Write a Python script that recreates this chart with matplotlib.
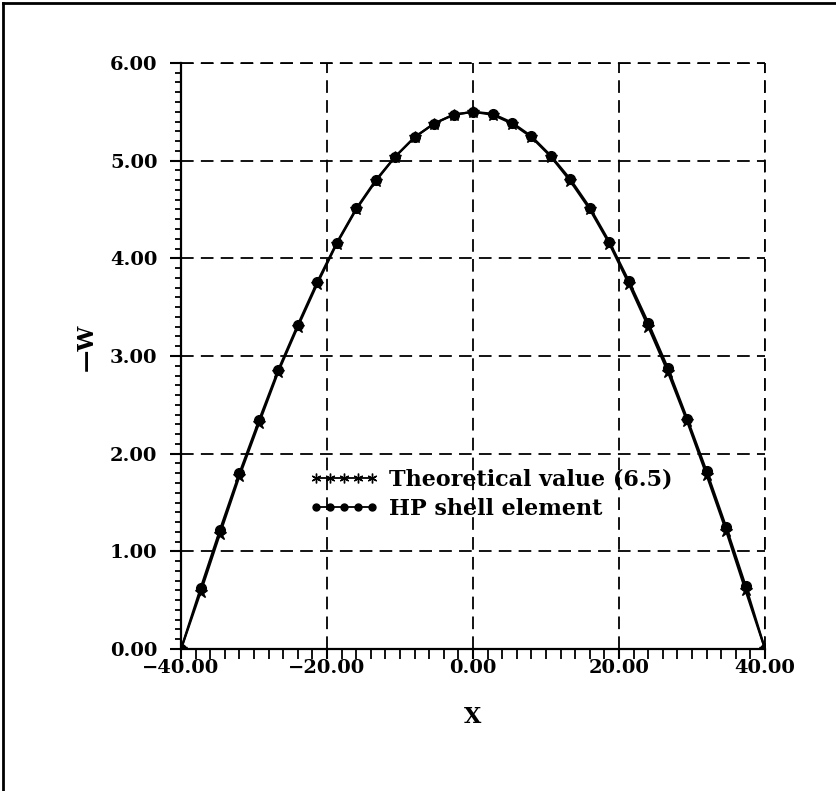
import numpy as np
import matplotlib.pyplot as plt
from matplotlib.ticker import MultipleLocator, FuncFormatter
from matplotlib.lines import Line2D

# station coordinates along the shell (31 nodes from -40 to 40)
x_nodes = [-40.00, -37.33, -34.67, -32.00, -29.33, -26.67, -24.00, -21.33,
           -18.67, -16.00, -13.33, -10.67, -8.00, -5.33, -2.67, 0.00,
           2.67, 5.33, 8.00, 10.67, 13.33, 16.00, 18.67, 21.33,
           24.00, 26.67, 29.33, 32.00, 34.67, 37.33, 40.00]

# deflection -W from the HP shell element
w_hp = [0.00, 0.62, 1.22, 1.80, 2.34, 2.86, 3.32, 3.76,
        4.16, 4.51, 4.80, 5.04, 5.24, 5.38, 5.47, 5.50,
        5.48, 5.39, 5.25, 5.05, 4.81, 4.52, 4.17, 3.77,
        3.34, 2.88, 2.36, 1.82, 1.25, 0.65, 0.00]

# theoretical deflection, eq. (6.5)
w_theory = [0.00, 0.58, 1.18, 1.77, 2.31, 2.84, 3.30, 3.74,
            4.15, 4.50, 4.79, 5.04, 5.24, 5.38, 5.47, 5.50,
            5.47, 5.38, 5.24, 5.04, 4.79, 4.50, 4.15, 3.74,
            3.30, 2.84, 2.33, 1.78, 1.21, 0.60, 0.00]

xticks = [-40, -20, 0, 20, 40]
yticks = [0, 1, 2, 3, 4, 5, 6]

plt.rcParams['font.family'] = 'DejaVu Serif'
plt.rcParams['font.weight'] = 'bold'

fig = plt.figure(figsize=(8.37, 7.91), dpi=100)
ax = fig.add_axes([0.2163, 0.1795, 0.914 - 0.2163, 0.9204 - 0.1795])

ax.plot(x_nodes, w_theory, color='black', linewidth=1.6, marker='*',
        markersize=9, zorder=3)
ax.plot(x_nodes, w_hp, color='black', linewidth=1.6, marker='o',
        markersize=7, zorder=4)

ax.set_xlim(-40, 40)
ax.set_ylim(0, 6)
ax.set_xticks(xticks)
ax.set_yticks(yticks)
ax.xaxis.set_minor_locator(MultipleLocator(2))
ax.yaxis.set_minor_locator(MultipleLocator(0.1))
fmt = FuncFormatter(lambda v, pos: f'{v:.2f}'.replace('-', '\u2212'))
ax.xaxis.set_major_formatter(fmt)
ax.yaxis.set_major_formatter(fmt)
ax.tick_params(axis='x', which='major', direction='out', length=7,
               width=1.5, labelsize=14, pad=0)
ax.tick_params(axis='x', which='minor', direction='out', length=7,
               width=1.3)
ax.tick_params(axis='y', which='major', direction='out', length=8,
               width=1.5, labelsize=14, pad=9)
ax.tick_params(axis='y', which='minor', direction='out', length=4.5,
               width=1.3)

# dashed grid closes the box on top and right
dash = (0, (7, 4))
ax.grid(True, which='major', linestyle=dash, color='black', linewidth=1.3)
for side in ['top', 'right']:
    ax.spines[side].set_visible(False)
for side in ['left', 'bottom']:
    ax.spines[side].set_linewidth(1.6)
ax.axhline(6, color='black', linestyle=dash, linewidth=1.3, clip_on=False)
ax.axvline(40, color='black', linestyle=dash, linewidth=1.3, clip_on=False)

ax.set_xlabel('X', fontsize=16, fontweight='bold', labelpad=21)
ax.set_ylabel('—W', fontsize=16, fontweight='bold')
ax.yaxis.set_label_coords(-0.142, 0.514)

handles = [
    Line2D([0], [0], color='black', linewidth=1.3, marker=(6, 2, 0),
           markersize=7),
    Line2D([0], [0], color='black', linewidth=1.3, marker='o',
           markersize=5),
]
ax.legend(handles, ['Theoretical value (6.5)', 'HP shell element'],
          loc='center left', bbox_to_anchor=(0.205, 0.264), frameon=False,
          numpoints=5, handlelength=3.1, handletextpad=0.45,
          labelspacing=0.3, borderaxespad=0,
          prop={'family': 'DejaVu Serif', 'weight': 'bold', 'size': 16})

# page frame on the left and top edges
fig.add_artist(Line2D([0.004, 0.004], [0.0, 0.996], color='black',
                      linewidth=2, transform=fig.transFigure))
fig.add_artist(Line2D([0.004, 1.0], [0.996, 0.996], color='black',
                      linewidth=2, transform=fig.transFigure))

fig.savefig('out.png', dpi=100)
